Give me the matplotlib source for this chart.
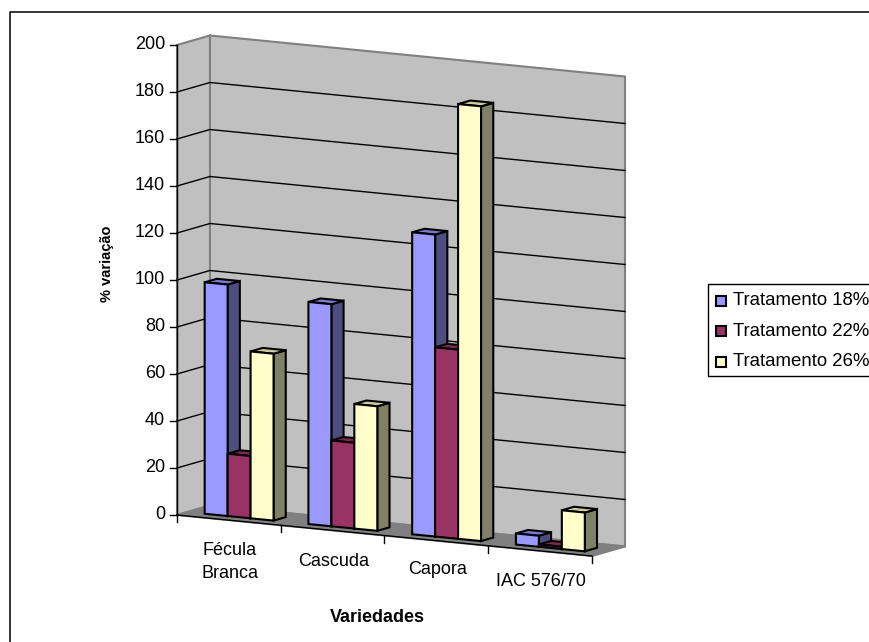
import matplotlib
matplotlib.use('Agg')
import matplotlib.pyplot as plt
from matplotlib.patches import Polygon, Rectangle

varieties = ['Fécula\nBranca', 'Cascuda', 'Capora', 'IAC 576/70']
series_names = ['Tratamento 18%', 'Tratamento 22%', 'Tratamento 26%']
t18 = [98.5, 94.5, 128.5, 4.7]
t22 = [26.5, 36.5, 80.5, 1]
t26 = [71, 53, 185, 16.5]
y_ticks = [0, 20, 40, 60, 80, 100, 120, 140, 160, 180, 200]

# colours: front, top, side
front = ['#9999FF', '#993366', '#FFFFCC']
top = ['#7A7ACC', '#7A2952', '#CCCCA3']
side = ['#4D4D80', '#4D1A33', '#808066']

plt.rcParams['font.family'] = ['Liberation Sans', 'DejaVu Sans']
fig = plt.figure(figsize=(8.7, 6.42), dpi=100)
ax = fig.add_axes([0, 0, 1, 1])
ax.set_xlim(0, 870)
ax.set_ylim(642, 0)
ax.axis('off')


def proj(u, v, d):
    # oblique projection: u category position, v value, d depth 0..1
    x = 177 + 103.75*u + 33*d
    y = 515 + 10.25*u - 2.35*v - 9.5*d
    return (x, y)


def poly(pts, color, edge='k', lw=1.5, z=1):
    ax.add_patch(Polygon(pts, closed=True, facecolor=color, edgecolor=edge,
                         linewidth=lw, joinstyle='miter', zorder=z))


# outer frame
ax.plot([10, 10, 870], [642, 12, 12], color='k', lw=1.1)

# walls and floor
n = len(varieties)
poly([proj(0, 0, 0), proj(0, 0, 1), proj(0, 200, 1), proj(0, 200, 0)], '#C0C0C0', edge='#808080')
poly([proj(0, 0, 1), proj(n, 0, 1), proj(n, 200, 1), proj(0, 200, 1)], '#C0C0C0', edge='#808080')
poly([proj(0, 0, 0), proj(n, 0, 0), proj(n, 0, 1), proj(0, 0, 1)], '#808080', edge='#808080')

# gridlines
for v in y_ticks[1:-1]:
    a, b, c = proj(0, v, 0), proj(0, v, 1), proj(n, v, 1)
    ax.plot([a[0], b[0], c[0]], [a[1], b[1], c[1]], color='k', lw=1)

# axes
a, b = proj(0, 0, 0), proj(0, 200, 0)
ax.plot([a[0], b[0]], [a[1], b[1]], color='k', lw=1)
a, b = proj(0, 0, 0), proj(n, 0, 0)
ax.plot([a[0], b[0]], [a[1], b[1]], color='k', lw=1)

for v in y_ticks:
    x, y = proj(0, v, 0)
    ax.plot([x - 7, x], [y, y], color='k', lw=1)
    ax.text(x - 12, y - 0.5, str(v), ha='right', va='center', fontsize=13)

for i in range(n + 1):
    x, y = proj(i, 0, 0)
    ax.plot([x, x], [y, y + 7], color='k', lw=1)

label_y = [562, 561, 569, 581]
for i, name in enumerate(varieties):
    x, y = proj(i + 0.5, 0, 0)
    ax.text(x + 1, label_y[i], name, ha='center', va='center', fontsize=13,
            linespacing=1.4)

# bars
gap = 0.168
w = (1 - 2*gap)/3
d0, d1 = 0.31, 0.68
for i in range(n):
    for s, vals in enumerate([t18, t22, t26]):
        v = vals[i]
        u0 = i + gap + s*w
        u1 = u0 + w
        z = 3 + i*3 + s
        poly([proj(u1, 0, d0), proj(u1, 0, d1), proj(u1, v, d1), proj(u1, v, d0)], side[s], z=z)
        poly([proj(u0, v, d0), proj(u1, v, d0), proj(u1, v, d1), proj(u0, v, d1)], top[s], z=z)
        poly([proj(u0, 0, d0), proj(u1, 0, d0), proj(u1, v, d0), proj(u0, v, d0)], front[s], z=z)

# titles
ax.text(107, 264, '% variação', rotation=90, ha='center', va='center',
        fontsize=10.5, fontweight='bold')
ax.text(377, 617, 'Variedades', ha='center', va='center', fontsize=13, fontweight='bold')

# legend, runs off the right edge
ax.plot([870, 708, 708, 870], [284, 284, 376, 376], color='k', lw=1)
for s, name in enumerate(series_names):
    yc = 300.5 + s*30.5
    ax.add_patch(Rectangle((716, yc - 5), 10, 10, facecolor=front[s], edgecolor='k', lw=1.5))
    ax.text(733, yc, name, ha='left', va='center', fontsize=13.4, clip_on=True)

fig.savefig('out.png', dpi=100)
